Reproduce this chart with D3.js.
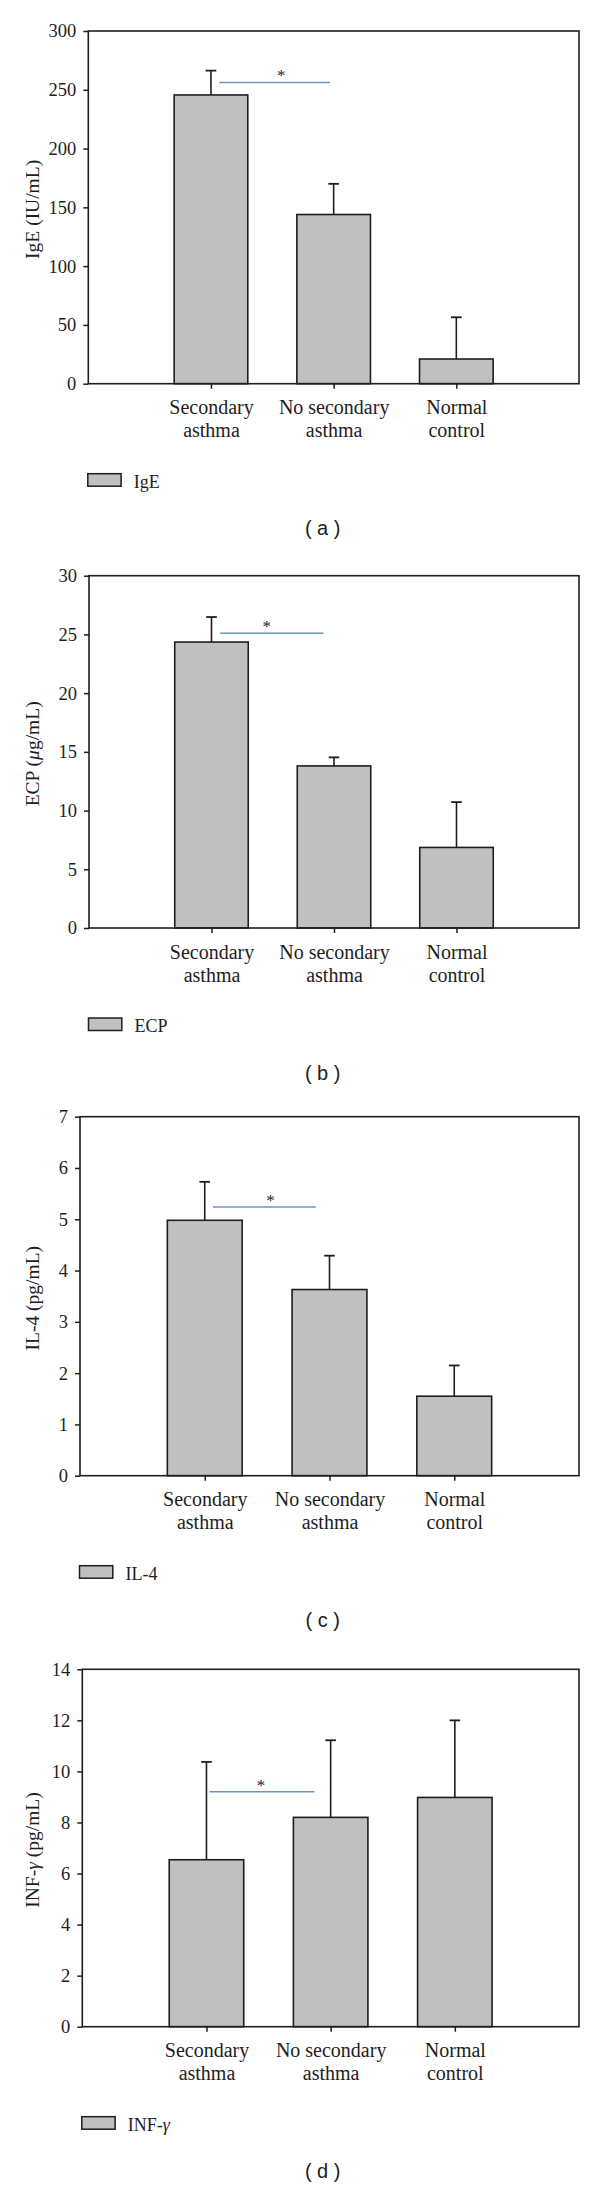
<!DOCTYPE html>
<html><head><meta charset="utf-8">
<script src="https://cdn.jsdelivr.net/npm/d3@7"></script>
<style>body{margin:0;background:#fff}</style>
</head><body><svg id="chart" width="600" height="2189"></svg>
<script>
// ---- data ----
const categories = ["Secondary asthma", "No secondary asthma", "Normal control"];
const igeMean = [245.6, 143.9, 21.0];
const igeSD   = [20.7, 26.1, 35.5];
const ecpMean = [24.35, 13.8, 6.86];
const ecpSD   = [2.13, 0.73, 3.86];
const il4Mean = [4.98, 3.63, 1.55];
const il4SD   = [0.75, 0.66, 0.60];
const infMean = [6.54, 8.20, 8.98];
const infSD   = [3.83, 3.02, 3.02];
const igeTicks = [0, 50, 100, 150, 200, 250, 300];
const ecpTicks = [0, 5, 10, 15, 20, 25, 30];
const il4Ticks = [0, 1, 2, 3, 4, 5, 6, 7];
const infTicks = [0, 2, 4, 6, 8, 10, 12, 14];
const yTitles = ["IgE (IU/mL)", "ECP (μg/mL)", "IL-4 (pg/mL)", "INF-γ (pg/mL)"];
const legendNames = ["IgE", "ECP", "IL-4", "INF-γ"];
const panelTags = ["a", "b", "c", "d"];
// significance bar: [from category pos, to category pos, value]
const sigBars = [[1.068, 1.972, 256.3], [1.071, 1.914, 25.1], [1.066, 1.890, 5.24], [1.023, 1.868, 9.2]];
const sigStarPos = [1.572, 1.452, 1.528, 1.439];

const panels = [
  {mean: igeMean, sd: igeSD, ticks: igeTicks},
  {mean: ecpMean, sd: ecpSD, ticks: ecpTicks},
  {mean: il4Mean, sd: il4SD, ticks: il4Ticks},
  {mean: infMean, sd: infSD, ticks: infTicks}
];

// ---- layout ----
const frames = [
  {l: 88.3, t: 31,     b: 383.7},
  {l: 89,   t: 575.7,  b: 928},
  {l: 80,   t: 1116.7, b: 1475.7},
  {l: 82.3, t: 1669.3, b: 2026.7}
];
const RIGHT = 579;
const INK = "#1e1e1e";
const SERIF = "'Liberation Serif', 'Times New Roman', serif";
const SANS = "'Liberation Sans', Arial, sans-serif";

const svg = d3.select("#chart");
svg.append("rect").attr("width", 600).attr("height", 2189).attr("fill", "#fff");

function addRich(textSel, str) {
  const parts = str.split(/([μγ])/);
  parts.forEach(p => {
    if (!p) return;
    const t = textSel.append("tspan").text(p);
    if (/[μγ]/.test(p)) t.attr("font-style", "italic");
  });
}

panels.forEach((p, k) => {
  const f = frames[k];
  const g = svg.append("g");
  const x = d3.scaleLinear().domain([0, 4]).range([f.l, RIGHT]);
  const yMax = p.ticks[p.ticks.length - 1];
  const y = d3.scaleLinear().domain([0, yMax]).range([f.b, f.t]);
  const bw = (x(1) - x(0)) * 0.6;

  // bars
  g.selectAll("rect.bar").data(p.mean).join("rect")
    .attr("class", "bar")
    .attr("x", (d, i) => x(i + 1) - bw / 2)
    .attr("y", d => y(d))
    .attr("width", bw)
    .attr("height", d => y(0) - y(d))
    .attr("fill", "#c0c0c0")
    .attr("stroke", INK)
    .attr("stroke-width", 1.6);

  // error bars (upper only)
  const eb = g.selectAll("g.err").data(p.mean).join("g").attr("class", "err");
  eb.append("line")
    .attr("x1", (d, i) => x(i + 1)).attr("x2", (d, i) => x(i + 1))
    .attr("y1", d => y(d)).attr("y2", (d, i) => y(d + p.sd[i]))
    .attr("stroke", INK).attr("stroke-width", 1.6);
  eb.append("line")
    .attr("x1", (d, i) => x(i + 1) - 5.3).attr("x2", (d, i) => x(i + 1) + 5.3)
    .attr("y1", (d, i) => y(d + p.sd[i])).attr("y2", (d, i) => y(d + p.sd[i]))
    .attr("stroke", INK).attr("stroke-width", 1.8);

  // significance line and star
  const s = sigBars[k];
  g.append("line")
    .attr("x1", x(s[0])).attr("x2", x(s[1]))
    .attr("y1", y(s[2])).attr("y2", y(s[2]))
    .attr("stroke", "#6a95c8").attr("stroke-width", 1.5);
  g.append("text")
    .attr("x", x(sigStarPos[k])).attr("y", y(s[2]) - 1)
    .attr("text-anchor", "middle")
    .attr("font-family", SERIF).attr("font-size", 17).attr("fill", INK)
    .text("*");

  // frame
  g.append("rect")
    .attr("x", f.l).attr("y", f.t)
    .attr("width", RIGHT - f.l).attr("height", f.b - f.t)
    .attr("fill", "none").attr("stroke", INK).attr("stroke-width", 1.6);

  // y axis
  const ya = g.append("g").attr("transform", `translate(${f.l},0)`)
    .call(d3.axisLeft(y).tickValues(p.ticks).tickSize(5).tickPadding(7).tickSizeOuter(0)
      .tickFormat(d3.format("d")));
  ya.select(".domain").remove();
  ya.selectAll(".tick line").attr("stroke", INK).attr("stroke-width", 1.5);
  ya.selectAll(".tick text").attr("font-family", SERIF).attr("font-size", 18.5).attr("fill", INK);

  // x axis
  const xa = g.append("g").attr("transform", `translate(0,${f.b})`)
    .call(d3.axisBottom(x).tickValues([1, 2, 3]).tickSize(5).tickSizeOuter(0)
      .tickFormat(d => categories[d - 1]));
  xa.select(".domain").remove();
  xa.selectAll(".tick line").attr("stroke", INK).attr("stroke-width", 1.5);
  xa.selectAll(".tick text").each(function (d) {
    const name = categories[d - 1];
    const cut = name.lastIndexOf(" ");
    const t = d3.select(this).text(null)
      .attr("y", 0).attr("dy", null)
      .attr("font-family", SERIF).attr("font-size", 20).attr("fill", INK);
    t.append("tspan").attr("x", 0).attr("y", 30.5).text(name.slice(0, cut));
    t.append("tspan").attr("x", 0).attr("y", 53.5).text(name.slice(cut + 1));
  });

  // y title
  const cy = (f.t + f.b) / 2 + 2;
  const yt = g.append("text")
    .attr("transform", `translate(38.5,${cy}) rotate(-90)`)
    .attr("text-anchor", "middle")
    .attr("font-family", SERIF).attr("font-size", 19.5).attr("fill", INK);
  addRich(yt, yTitles[k]);

  // legend
  const lx = f.l - 0.5, ly = f.b + 90;
  g.append("rect")
    .attr("x", lx).attr("y", ly).attr("width", 33.3).attr("height", 12.5)
    .attr("fill", "#c0c0c0").attr("stroke", INK).attr("stroke-width", 1.5);
  const lt = g.append("text")
    .attr("x", lx + 46).attr("y", ly + 13.8)
    .attr("font-family", SERIF).attr("font-size", 18).attr("fill", INK);
  addRich(lt, legendNames[k]);

  // panel tag
  g.append("text")
    .attr("x", 322.7).attr("y", f.b + 151.6)
    .attr("text-anchor", "middle")
    .attr("font-family", SANS).attr("font-size", 20).attr("fill", INK)
    .attr("xml:space", "preserve")
    .style("white-space", "pre")
    .text("( " + panelTags[k] + " )");
});
</script></body></html>
